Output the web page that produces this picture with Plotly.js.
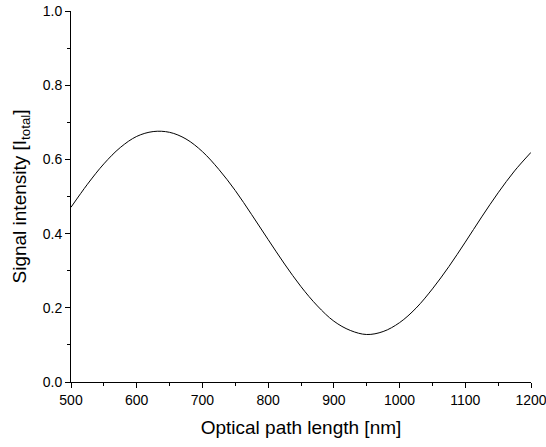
<!DOCTYPE html>
<html>
<head>
<meta charset="utf-8">
<script src="https://cdn.plot.ly/plotly-3.0.1.min.js"></script>
<style>html,body{margin:0;padding:0;background:#fff;}#chart{width:546px;height:447px;}</style>
</head>
<body>
<div id="chart"></div>
<script>
const pathLength = [500, 525, 550, 575, 600, 625, 650, 675, 700, 725, 750, 775, 800, 825, 850, 875, 900, 925, 950, 975, 1000, 1025, 1050, 1075, 1100, 1125, 1150, 1175, 1200];
const intensity = [0.471, 0.533, 0.588, 0.632, 0.662, 0.675, 0.673, 0.655, 0.621, 0.573, 0.516, 0.451, 0.384, 0.318, 0.257, 0.205, 0.164, 0.139, 0.128, 0.136, 0.160, 0.199, 0.251, 0.311, 0.377, 0.445, 0.510, 0.569, 0.619];
const xTickVals = [500, 600, 700, 800, 900, 1000, 1100, 1200];
const yTickVals = [0.0, 0.2, 0.4, 0.6, 0.8, 1.0];
const xTitle = 'Optical path length [nm]';
const yTitle = 'Signal intensity [I<sub>total</sub>]';

const font = 'Liberation Sans, Arial, sans-serif';

Plotly.newPlot('chart', [{
  x: pathLength,
  y: intensity,
  type: 'scatter',
  mode: 'lines',
  line: {color: '#000', width: 1, shape: 'spline', smoothing: 1},
  hoverinfo: 'skip'
}], {
  width: 546,
  height: 447,
  margin: {l: 71, r: 15, t: 11, b: 65},
  paper_bgcolor: '#fff',
  plot_bgcolor: '#fff',
  showlegend: false,
  font: {family: font, color: '#000', size: 14},
  xaxis: {
    range: [500, 1200],
    tickvals: xTickVals,
    ticktext: xTickVals.map(String),
    ticklabeloverflow: 'allow',
    ticks: 'outside', ticklen: 5, tickwidth: 1, tickcolor: '#000',
    minor: {dtick: 50, tick0: 500, ticks: 'outside', ticklen: 3, tickwidth: 1, tickcolor: '#000', showgrid: false},
    showline: true, linecolor: '#000', linewidth: 1,
    showgrid: false, zeroline: false,
    tickfont: {family: font, size: 14, color: '#000'},
    title: {text: xTitle, font: {family: font, size: 19, color: '#000'}, standoff: 13},
    automargin: false
  },
  yaxis: {
    range: [0, 1],
    tickvals: yTickVals,
    ticktext: yTickVals.map(v => v.toFixed(1)),
    ticklabeloverflow: 'allow',
    ticks: 'outside', ticklen: 5, tickwidth: 1, tickcolor: '#000',
    minor: {dtick: 0.1, tick0: 0, ticks: 'outside', ticklen: 3, tickwidth: 1, tickcolor: '#000', showgrid: false},
    showline: true, linecolor: '#000', linewidth: 1,
    showgrid: false, zeroline: false,
    tickfont: {family: font, size: 14, color: '#000'},
    title: {text: yTitle, font: {family: font, size: 19, color: '#000'}, standoff: 11},
    automargin: false
  }
}, {displayModeBar: false, staticPlot: true});
</script>
</body>
</html>
